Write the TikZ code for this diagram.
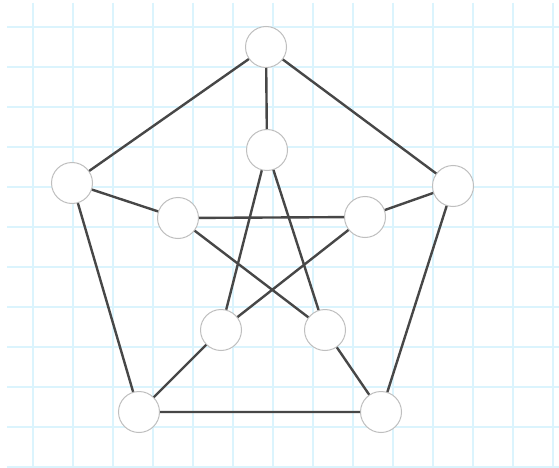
\documentclass[tikz,border=0pt]{standalone}
\begin{document}
\begin{tikzpicture}[x=1pt,y=-1pt,
  vtx/.style={circle,draw=black!25,line width=1pt,fill=white,minimum size=41pt,inner sep=0pt},
  edge/.style={draw=black!72,line width=2.4pt},
  gridline/.style={draw=cyan!14!white,line width=1.2pt}]
\useasboundingbox (0,0) rectangle (559,468);
\fill[white] (0,0) rectangle (559,468);
\foreach \x in {33,73,...,553} \draw[gridline] (\x,3) -- (\x,468);
\foreach \y in {27,67,...,467} \draw[gridline] (7,\y) -- (559,\y);
\node[vtx] (o1) at (266,47) {};
\node[vtx] (o2) at (72,183) {};
\node[vtx] (o3) at (453,186) {};
\node[vtx] (o4) at (139,412) {};
\node[vtx] (o5) at (381,412) {};
\node[vtx] (i1) at (267,150) {};
\node[vtx] (i2) at (178,218) {};
\node[vtx] (i3) at (365,217) {};
\node[vtx] (i4) at (221,330) {};
\node[vtx] (i5) at (325,330) {};
\path[edge] (o1) -- (o2) (o1) -- (o3) (o2) -- (o4) (o3) -- (o5) (o4) -- (o5)
  (o1) -- (i1) (o2) -- (i2) (o3) -- (i3) (o4) -- (i4) (o5) -- (i5)
  (i1) -- (i4) (i1) -- (i5) (i2) -- (i3) (i2) -- (i5) (i3) -- (i4);
\end{tikzpicture}
\end{document}
